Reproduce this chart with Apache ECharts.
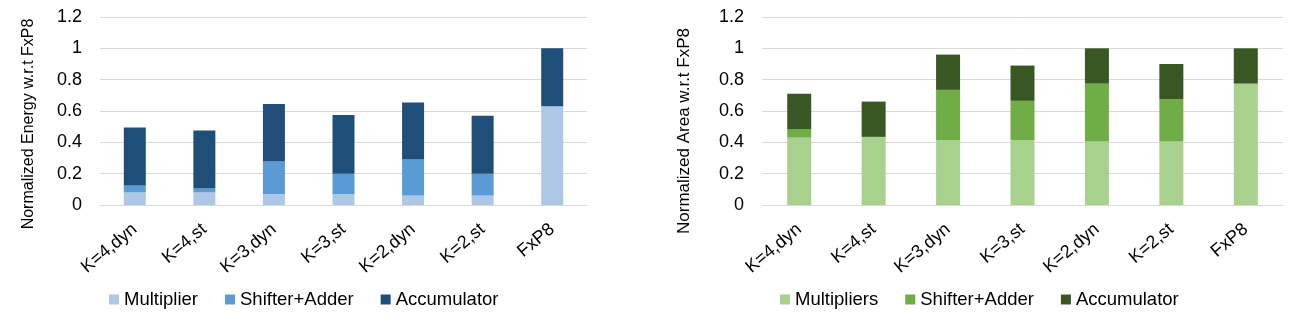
<!DOCTYPE html>
<html>
<head>
<meta charset="utf-8">
<script src="https://cdn.jsdelivr.net/npm/echarts@6/dist/echarts.min.js"></script>
<style>
html,body{margin:0;padding:0;background:#fff;}
#chart{width:1295px;height:316px;}
</style>
</head>
<body>
<div id="chart"></div>
<script>
// ---- data ----
var categories = ['K=4,dyn', 'K=4,st', 'K=3,dyn', 'K=3,st', 'K=2,dyn', 'K=2,st', 'FxP8'];

var energyMultiplier  = [0.08, 0.08, 0.07, 0.07, 0.06, 0.06, 0.63];
var energyShifter     = [0.045, 0.025, 0.21, 0.13, 0.23, 0.14, 0];
var energyAccumulator = [0.37, 0.37, 0.365, 0.375, 0.365, 0.37, 0.37];

var areaMultipliers   = [0.43, 0.435, 0.415, 0.415, 0.405, 0.405, 0.775];
var areaShifter       = [0.055, 0, 0.32, 0.25, 0.37, 0.27, 0];
var areaAccumulator   = [0.225, 0.225, 0.225, 0.225, 0.225, 0.225, 0.225];

var yTicks = { min: 0, max: 1.2, interval: 0.2 };

var energyTitle = 'Normalized Energy w.r.t FxP8';
var areaTitle = 'Normalized Area w.r.t FxP8';
var energyNames = ['Multiplier', 'Shifter+Adder', 'Accumulator'];
var areaNames = ['Multipliers', 'Shifter+Adder', 'Accumulator'];

// ---- chart ----
var FONT = '"Liberation Sans", Arial, sans-serif';
var blue = ['#AEC7E6', '#5B9BD5', '#1F4E79'];
var green = ['#A9D18E', '#70AD47', '#385723'];

function xAxisFor(gi) {
  return {
    type: 'category', gridIndex: gi, data: categories,
    axisLine: { lineStyle: { color: '#D9D9D9', width: 1 } },
    axisTick: { show: false },
    axisLabel: { rotate: 40, margin: 22, fontSize: 18, color: '#000', fontFamily: FONT, interval: 0 }
  };
}
function yAxisFor(gi) {
  return {
    type: 'value', gridIndex: gi, min: yTicks.min, max: yTicks.max, interval: yTicks.interval,
    axisLine: { show: false }, axisTick: { show: false },
    splitLine: { lineStyle: { color: '#D9D9D9', width: 1 } },
    axisLabel: { fontSize: 18, color: '#000', fontFamily: FONT, margin: 18 }
  };
}
function bar(name, data, gi, color, stack, w) {
  return {
    name: name, type: 'bar', stack: stack, xAxisIndex: gi, yAxisIndex: gi,
    data: data, barWidth: w, itemStyle: { color: color }, animation: false
  };
}
function legendItems(names, colors) {
  return names.map(function (n, i) { return { name: n, itemStyle: { color: colors[i] } }; });
}

var chart = echarts.init(document.getElementById('chart'), null, { renderer: 'canvas' });
chart.setOption({
  animation: false,
  backgroundColor: '#fff',
  grid: [
    { left: 100, top: 17, width: 487, height: 188 },
    { left: 762, top: 17, width: 521, height: 188 }
  ],
  xAxis: [xAxisFor(0), xAxisFor(1)],
  yAxis: [yAxisFor(0), yAxisFor(1)],
  legend: [
    { data: legendItems(energyNames, blue), left: 104, top: 285, itemWidth: 10, itemHeight: 10, itemGap: 27, icon: 'rect',
      textStyle: { fontSize: 18.5, color: '#000', fontFamily: FONT } },
    { data: legendItems(areaNames, green), left: 775, top: 285, itemWidth: 10, itemHeight: 10, itemGap: 27, icon: 'rect',
      textStyle: { fontSize: 18.5, color: '#000', fontFamily: FONT } }
  ],
  graphic: [
    { type: 'text', x: 29, y: 124, rotation: Math.PI / 2,
      style: { text: energyTitle, fontSize: 16, fontFamily: FONT, fill: '#000', textAlign: 'center', textVerticalAlign: 'middle' } },
    { type: 'text', x: 684, y: 131, rotation: Math.PI / 2,
      style: { text: areaTitle, fontSize: 17, fontFamily: FONT, fill: '#000', textAlign: 'center', textVerticalAlign: 'middle' } }
  ],
  series: [
    bar(energyNames[0], energyMultiplier, 0, blue[0], 'e', 22),
    bar(energyNames[1], energyShifter, 0, blue[1], 'e', 22),
    bar(energyNames[2], energyAccumulator, 0, blue[2], 'e', 22),
    bar(areaNames[0], areaMultipliers, 1, green[0], 'a', 24),
    bar(areaNames[1], areaShifter, 1, green[1], 'a', 24),
    bar(areaNames[2], areaAccumulator, 1, green[2], 'a', 24)
  ]
});
</script>
</body>
</html>
